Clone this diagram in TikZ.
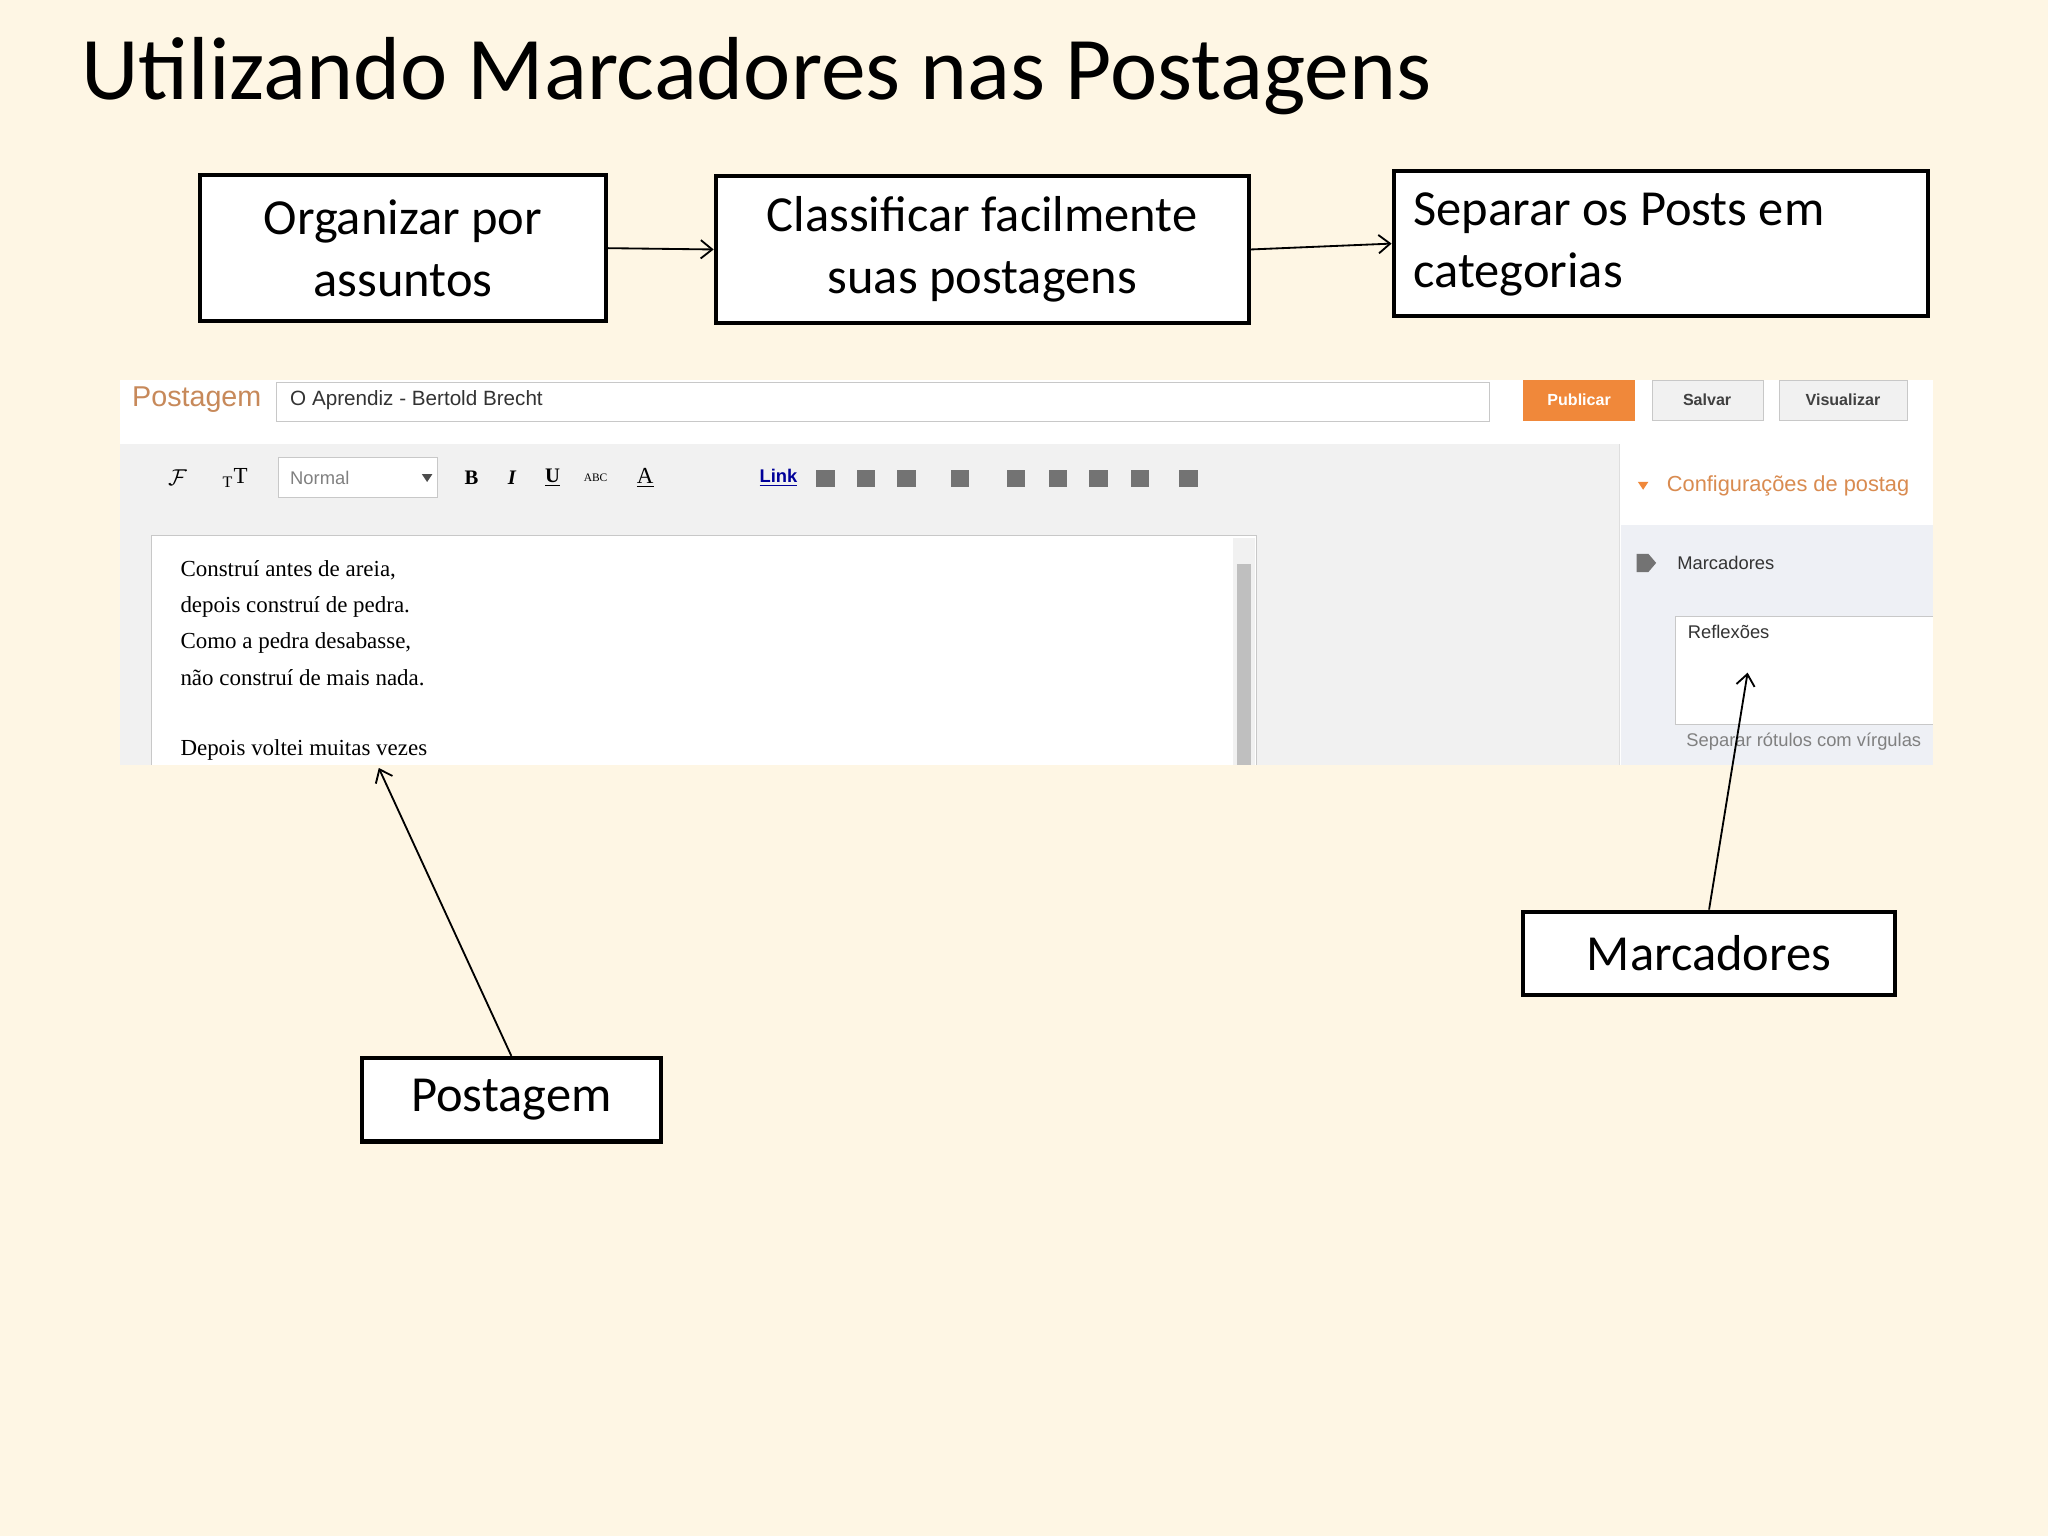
\documentclass[tikz,border=0pt]{standalone}
\usepackage{fontspec}
\setmainfont{Carlito}
\newfontfamily\uifont{Liberation Sans}
\newfontfamily\poemfont{Liberation Serif}
\usetikzlibrary{arrows.meta}
\definecolor{bg}{HTML}{FEF6E4}
\definecolor{orng}{HTML}{F0883A}
\definecolor{orngtxt}{HTML}{D98B50}
\definecolor{tbgray}{HTML}{F1F1F1}
\definecolor{panel}{HTML}{EEF0F5}
\definecolor{brd}{HTML}{C8C8C8}
\tikzset{
  box/.style={draw=black,line width=1.8pt,fill=white,inner sep=0pt},
  boxtxt/.style={font=\fontsize{22}{27}\selectfont,align=center},
  conn/.style={-{Straight Barb[length=5pt,width=8pt]},line width=0.8pt},
  ui/.style={font=\uifont\fontsize{8}{10}\selectfont,anchor=west,text=black!80},
  poem/.style={font=\poemfont\fontsize{10}{12}\selectfont,anchor=west}
}
\begin{document}
\begin{tikzpicture}[x=0.02cm,y=-0.02cm]
\fill[bg] (0,0) rectangle (1568,1176);
\useasboundingbox (0,0) rectangle (1568,1176);
\node[anchor=west,font=\fontsize{39}{46}\selectfont] (title) at (56,58) {Utilizando Marcadores nas Postagens};
% screenshot
\fill[white] (92,291) rectangle (1480,586);
\node[anchor=west,font=\uifont\fontsize{12.5}{14}\selectfont,text=orngtxt!80!gray] (pst) at (95,306) {Postagem};
\draw[brd,fill=white] (212,293) rectangle (1140,323);
\node[ui,font=\uifont\fontsize{9}{11}\selectfont] (ttl) at (216,306) {O Aprendiz - Bertold Brecht};
\fill[orng] (1166,291) rectangle (1252,322);
\node[font=\uifont\bfseries\fontsize{7}{8}\selectfont,text=white] (pub) at (1209,306) {Publicar};
\draw[brd,fill=tbgray] (1265,291) rectangle (1350,322);
\node[font=\uifont\bfseries\fontsize{7}{8}\selectfont,text=black!75] (sal) at (1307,306) {Salvar};
\draw[brd,fill=tbgray] (1362,291) rectangle (1460,322);
\node[font=\uifont\bfseries\fontsize{7}{8}\selectfont,text=black!75] (vis) at (1411,306) {Visualizar};
\fill[tbgray] (92,340) rectangle (1240,586);
\draw[brd!60] (1240,340) -- (1240,586);
% toolbar
\draw[brd,fill=white] (213,350) rectangle (335,381);
\node[ui,text=gray] (nrm) at (216,366) {Normal};
\fill[black!70] (323,363) -- (331,363) -- (327,369) -- cycle;
\node[font=\poemfont\itshape\fontsize{10}{10}\selectfont] (tf) at (136,366) {$\mathcal F$};
\node[font=\poemfont\fontsize{10}{10}\selectfont] (tt) at (180,366) {\textsubscript{T}T};
\node[font=\poemfont\bfseries\fontsize{9}{9}\selectfont] (tb) at (361,366) {B};
\node[font=\poemfont\bfseries\itshape\fontsize{9}{9}\selectfont] (ti) at (392,366) {I};
\node[font=\poemfont\bfseries\fontsize{9}{9}\selectfont] (tu) at (423,366) {\underline{U}};
\node[font=\poemfont\fontsize{5}{9}\selectfont] (tabc) at (456,366) {ABC};
\node[font=\poemfont\fontsize{10}{10}\selectfont] (ta) at (494,366) {\underline{A}};
\node[font=\uifont\bfseries\fontsize{8}{9}\selectfont,text=blue!60!black] (tl) at (596,366) {\underline{Link}};
\foreach \xx in {632,663,694,735,778,810,841,873,910}{
  \fill[black!55] (\xx-7,360) rectangle (\xx+7,373);
}
% right panel
\fill[white] (1241,340) rectangle (1480,402);
\fill[orng] (1254,369) -- (1262,369) -- (1258,375) -- cycle;
\node[ui,font=\uifont\fontsize{9.5}{11}\selectfont,text=orngtxt] (cfg) at (1270,372) {Configurações de postag};
\fill[panel] (1241,402) rectangle (1480,586);
\fill[black!55] (1253,424) -- (1262,424) -- (1268,431) -- (1262,438) -- (1253,438) -- cycle;
\node[ui] (mar) at (1278,431) {Marcadores};
\fill[white] (1283,472) rectangle (1480,555);
\draw[brd] (1480,472) -- (1283,472) -- (1283,555) -- (1480,555);
\node[ui] (refl) at (1286,484) {Reflexões};
\node[ui,text=gray] (sep) at (1285,568) {Separar rótulos com vírgulas};
% editor
\fill[white] (116,410) rectangle (962,586);
\draw[brd] (116,586) -- (116,410) -- (962,410) -- (962,586);
\fill[tbgray] (944,412) rectangle (961,586);
\fill[black!25] (947,432) rectangle (958,586);
\node[poem] (p1) at (132,437) {Construí antes de areia,};
\node[poem] (p2) at (132,465) {depois construí de pedra.};
\node[poem] (p3) at (132,492) {Como a pedra desabasse,};
\node[poem] (p4) at (132,519) {não construí de mais nada.};
\node[poem] (p5) at (132,574) {Depois voltei muitas vezes};
\fill[bg] (0,586) rectangle (1568,592);
% boxes
\node[box,minimum width=311*0.02cm,minimum height=112*0.02cm] (a) at (308.5,190) {};
\node[boxtxt] (at) at (a) {Organizar por\\assuntos};
\node[box,minimum width=408*0.02cm,minimum height=112*0.02cm] (b) at (752,191) {};
\node[boxtxt] (bt) at (b) {Classificar facilmente\\suas postagens};
\node[box,minimum width=409*0.02cm,minimum height=111*0.02cm] (c) at (1271.5,186.5) {};
\node[boxtxt,align=left,anchor=west] (ct) at (1076,187) {Separar os Posts em\\categorias};
\node[box,minimum width=285*0.02cm,minimum height=64*0.02cm] (m) at (1308.5,730) {};
\node[boxtxt] (mt) at (m) {Marcadores};
\node[box,minimum width=229*0.02cm,minimum height=64*0.02cm] (p) at (391.5,842) {};
\node[boxtxt] (pt) at (p) {Postagem};
\coordinate (pe) at (290,588);
\coordinate (me) at (1338,515);
\draw[conn] (a.east) -- (b.west);
\draw[conn] (b.east) -- (c.west);
\draw[conn] (p.north) -- (pe);
\draw[conn] (m.north) -- (me);
\end{tikzpicture}
\end{document}
